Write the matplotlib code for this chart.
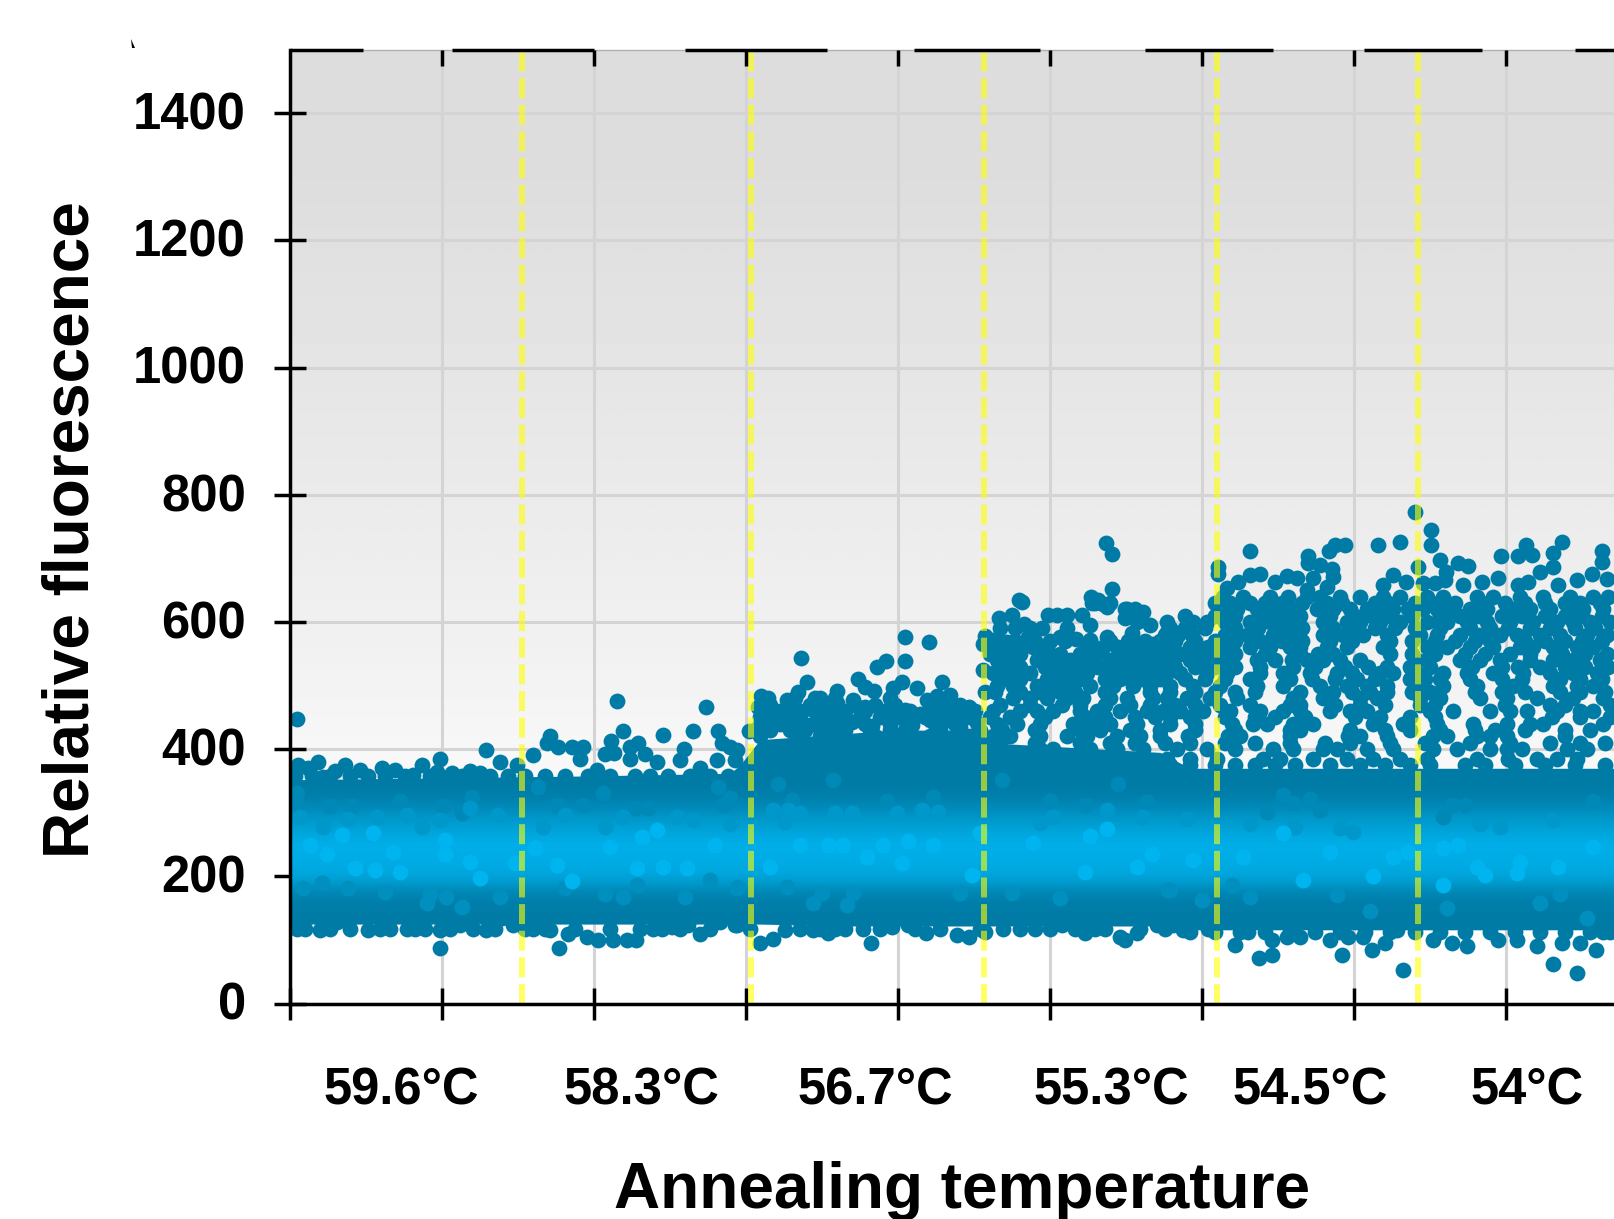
import matplotlib
matplotlib.use("Agg")
import matplotlib.pyplot as plt
from matplotlib.colors import LinearSegmentedColormap
from matplotlib.patches import Polygon
from matplotlib.transforms import ScaledTranslation
import numpy as np

plt.rcParams['font.family'] = ['Liberation Sans', 'DejaVu Sans']

# ---------- axes content ----------
grid_x = [0, 152, 304, 456, 608, 760, 912, 1064, 1216]
y_ticks = [0, 200, 400, 600, 800, 1000, 1200, 1400]
temp_pos = [111, 351, 585, 821, 1020, 1237]
temp_labels = ['59.6°C', '58.3°C', '56.7°C', '55.3°C', '54.5°C', '54°C']
yellow_x = [232, 461, 694, 927, 1128]
top_segments = [(0, 73), (162, 304), (395, 537), (624, 750), (855, 983), (1074, 1192), (1285, 1324)]

# ---------- dense band, read as a profile (value -> tone) ----------
band_values = [135, 160, 176, 192, 205, 225, 250, 268, 285, 305, 325, 345]
band_tones = ['#007ba6', '#007fab', '#0088b6', '#009ccf', '#00a6dd', '#00acE6', '#00aee8',
              '#00a6dd', '#009ccf', '#008dbd', '#0080ac', '#007ba6']
solid_x = [0, 300, 440, 450, 470, 560, 600, 690, 700, 870, 900, 1324]
solid_top = [352, 358, 362, 375, 415, 425, 430, 430, 410, 395, 370, 370]
solid_bottom = [125, 125, 125, 125, 125, 122, 122, 122, 122, 122, 116, 116]

# ---------- lighter dots visible inside the band ----------
tone1_x = [7, 248, 313, 428, 433, 293, 267, 345, 110, 62, 40, 7, 153, 182, 172, 358,
           712, 828, 488, 543, 597, 502, 440, 795, 760, 643, 857,
           993, 1020, 1162, 1003, 977, 1175, 1303, 1030, 1153]
tone1_y = [331, 341, 331, 341, 312, 312, 312, 307, 318, 310, 310, 315, 310, 325, 299, 307,
           352, 346, 346, 352, 318, 320, 323, 312, 318, 325, 317,
           328, 321, 312, 315, 302, 312, 318, 304, 294]
tone2_x = [117, 87, 58, 33, 10, 132, 150, 180, 208, 253, 275, 333, 387, 440, 403, 315,
           483, 498, 545, 510, 607, 632, 562, 648, 750, 817, 853, 763, 495,
           960, 1005, 897, 1190, 1263, 1050, 1063, 1210]
tone2_y = [297, 294, 291, 278, 294, 278, 289, 307, 296, 278, 296, 294, 294, 283, 289, 278,
           305, 305, 299, 299, 299, 305, 299, 302, 284, 305, 294, 294, 286,
           283, 278, 291, 283, 289, 276, 270, 278]
bright_x = [155, 245, 267, 225, 52, 83, 20, 37, 103, 65, 85, 110, 180, 155, 320, 352, 367, 347, 373, 397, 425, 282, 190,
            817, 690, 618, 593, 553, 510, 538, 643, 800, 743, 862, 795, 682, 612, 577, 480, 847,
            993, 1153, 1040, 1168, 1153, 1118, 903, 953, 1103, 1230, 1268, 1187, 1303, 1195, 1227, 1013, 1083]
bright_y = [236, 244, 218, 221, 265, 268, 250, 236, 239, 213, 210, 207, 223, 257, 247, 262, 273, 213, 215, 213, 250, 192, 197,
            274, 268, 255, 249, 249, 249, 249, 249, 263, 252, 236, 207, 202, 221, 231, 215, 215,
            269, 244, 239, 249, 186, 239, 226, 231, 231, 223, 215, 215, 247, 202, 205, 194, 200]
lower_x = [13, 32, 58, 95, 140, 156, 172, 210, 275, 315, 333, 347, 420, 447, 395, 137,
           532, 448, 497, 563, 722, 670, 770, 878, 523, 557,
           880, 942, 960, 1080, 1157, 1250, 1297, 1270, 1047, 912]
lower_y = [181, 189, 181, 176, 173, 168, 152, 168, 181, 173, 168, 186, 194, 181, 168, 158,
           174, 184, 184, 174, 174, 174, 166, 179, 158, 155,
           179, 186, 168, 145, 150, 158, 134, 173, 171, 163]

# ---------- edge and outlying points ----------
edge_x = [7, 8, 18, 28, 33, 45, 55, 70, 92, 105, 132, 123, 150, 147, 162, 180, 190, 196, 210, 227, 243, 257, 260, 268, 282, 293, 290, 307, 315, 324, 321, 327, 333, 340, 348, 355, 340, 373, 367, 394, 390, 403, 416, 428, 432, 440, 427, 410, 447, 445,
          7, 30, 47, 78, 100, 117, 150, 150, 170, 183, 196, 212, 223, 243, 260, 269, 278, 297, 308, 323, 337, 346, 363, 382, 398, 410, 430, 445,
          447, 470, 483, 495, 523, 538, 555, 581, 573, 602, 618, 636, 667, 679, 695, 713, 745, 772, 795, 805, 830, 835, 847, 867, 883,
          893, 918, 945, 958, 982, 982, 969, 997, 1010, 1040, 1052, 1058, 1073, 1082, 1095, 1107, 1113, 1143, 1162, 1177, 1208, 1227, 1247, 1263, 1272, 1287, 1290, 1306, 1313]
edge_y = [447, 375, 370, 380, 357, 366, 375, 367, 370, 367, 375, 360, 384, 364, 362, 366, 362, 399, 380, 375, 391, 409, 420, 404, 404, 404, 384, 367, 393, 394, 413, 476, 428, 404, 409, 393, 384, 423, 380, 400, 383, 428, 466, 428, 409, 404, 383, 370, 399, 383,
          118, 116, 129, 116, 118, 118, 87, 116, 124, 118, 116, 134, 124, 118, 116, 87, 110, 105, 100, 100, 100, 100, 118, 120, 124, 110, 129, 124,
          124, 96, 101, 116, 116, 111, 118, 96, 118, 121, 124, 111, 108, 105, 113, 118, 118, 124, 111, 118, 105, 100, 111, 124, 124,
          116, 118, 92, 113, 100, 76, 71, 105, 105, 100, 76, 105, 105, 85, 95, 116, 53, 100, 95, 91, 100, 100, 91, 62, 95, 48, 95, 85, 113]

upper_x = [459, 468, 471, 478, 511, 517, 508, 497, 530, 547, 547, 568, 575, 584, 563, 575, 587, 596, 615, 615, 639, 603, 612, 627, 652, 637, 647, 660, 597, 615, 630, 652, 667, 679,
           693, 695, 693, 695, 709, 722, 734, 758, 767, 777, 792, 777, 770, 786, 800, 802, 817, 808, 732, 835, 845, 853, 835, 847, 860, 842, 817, 877, 887, 845, 863, 827, 800, 738, 747, 703, 717, 727,
           816, 822, 822, 801, 813, 729, 837,
           473, 483, 497, 510, 520, 523, 537, 545, 562, 570, 582, 597, 603, 622, 630, 640, 657, 670, 680, 687,
           1125, 1141, 1141, 1088, 1110, 1055, 1045, 1039, 960, 1272, 1236, 1228, 1242, 1263, 1263, 1211, 1312, 1312, 1150, 1168, 1178, 1128, 1156, 928, 928, 1018, 1018, 1030, 1042, 1043,
           948, 960, 970, 985, 997, 1007, 1023, 1017, 1037, 937, 1103, 1093, 1116, 1133, 1145, 1155, 1173, 1192, 1208, 1250, 1238, 1228, 1268, 1287, 1302, 1317]
upper_y = [428, 466, 484, 480, 543, 505, 490, 477, 480, 492, 472, 510, 498, 491, 477, 467, 529, 539, 577, 539, 568, 496, 505, 496, 505, 477, 483, 485, 462, 462, 456, 456, 467, 467,
           566, 578, 525, 490, 606, 611, 597, 611, 611, 611, 611, 590, 577, 574, 595, 630, 624, 635, 632, 621, 621, 616, 606, 600, 595, 582, 577, 585, 582, 566, 566, 561, 572, 577, 566, 572, 569, 566,
           725, 707, 652, 639, 628, 634, 621,
           433, 451, 456, 449, 438, 462, 451, 430, 443, 446, 436, 456, 451, 438, 454, 446, 446, 435, 451, 441,
           773, 745, 721, 721, 726, 721, 721, 711, 712, 726, 721, 703, 705, 708, 687, 703, 712, 695, 697, 693, 688, 687, 679, 687, 676, 703, 692, 690, 684, 671,
           663, 674, 676, 663, 672, 669, 669, 650, 655, 653, 674, 658, 663, 661, 661, 666, 658, 663, 669, 679, 663, 658, 658, 666, 676, 668]

# ---------- the scattered cloud, read row by row ----------
row_640 = [933, 953, 980, 998, 1017, 1030, 1050, 1070, 1093, 1110, 1137, 1153, 1187, 1203, 1230, 1253, 1280, 1303, 1318]
row_630 = [805, 820, 925, 940, 960, 975, 992, 1012, 1037, 1052, 1085, 1098, 1125, 1142, 1165, 1192, 1215, 1235, 1255, 1275, 1290, 1310]
row_620 = [933, 947, 967, 983, 997, 1007, 1027, 1043, 1060, 1077, 1093, 1103, 1118, 1133, 1147, 1160, 1180, 1197, 1223, 1240, 1260, 1280, 1293, 1313]
row_610 = [895, 925, 945, 970, 990, 1010, 1040, 1065, 1082, 1100, 1122, 1150, 1170, 1188, 1212, 1232, 1255, 1275, 1292, 1312]
row_600 = [877, 903, 917, 935, 960, 980, 1000, 1033, 1057, 1070, 1090, 1110, 1137, 1157, 1177, 1197, 1220, 1243, 1267, 1283, 1300, 1320]
row_590 = [710, 725, 740, 752, 880, 895, 915, 945, 968, 992, 1012, 1043, 1063, 1085, 1105, 1125, 1150, 1180, 1200, 1218, 1240, 1260, 1285, 1305]
row_580 = [875, 888, 902, 935, 957, 983, 1003, 1033, 1053, 1073, 1097, 1130, 1147, 1170, 1190, 1210, 1227, 1250, 1270, 1297, 1317]
row_570 = [700, 710, 725, 745, 760, 775, 800, 820, 838, 855, 870, 885, 905, 925, 945, 970, 992, 1012, 1040, 1062, 1100, 1122, 1145, 1165, 1185, 1200, 1235, 1255, 1275, 1292, 1312]
row_560 = [703, 717, 730, 743, 757, 797, 813, 827, 843, 863, 877, 900, 918, 937, 960, 980, 1000, 1010, 1037, 1057, 1093, 1137, 1157, 1180, 1203, 1230, 1243, 1263, 1287, 1303]
row_550 = [700, 715, 730, 750, 770, 790, 807, 830, 850, 870, 890, 910, 925, 945, 975, 1010, 1028, 1043, 1100, 1122, 1145, 1175, 1195, 1220, 1240, 1272, 1295, 1317]
row_540 = [707, 723, 747, 763, 780, 797, 820, 840, 860, 880, 900, 917, 937, 967, 985, 1002, 1017, 1033, 1050, 1070, 1127, 1137, 1170, 1190, 1210, 1240, 1263, 1283, 1310]
row_530 = [710, 730, 755, 772, 790, 808, 828, 848, 870, 885, 905, 925, 945, 970, 1003, 1025, 1055, 1078, 1097, 1120, 1140, 1182, 1212, 1228, 1250, 1275, 1295, 1318]
row_520 = [703, 720, 740, 767, 777, 797, 817, 837, 857, 877, 890, 917, 937, 970, 993, 1020, 1047, 1062, 1090, 1103, 1127, 1153, 1177, 1203, 1233, 1260, 1283, 1307]
row_510 = [713, 730, 757, 772, 790, 815, 830, 850, 870, 895, 915, 935, 960, 1000, 1022, 1045, 1067, 1085, 1120, 1135, 1150, 1180, 1212, 1232, 1270, 1290, 1312]
row_500 = [707, 723, 747, 763, 783, 800, 823, 843, 860, 880, 903, 930, 967, 993, 1030, 1057, 1077, 1097, 1127, 1153, 1187, 1223, 1263, 1287, 1303]
row_490 = [705, 730, 750, 770, 785, 815, 860, 880, 905, 925, 945, 965, 1010, 1043, 1062, 1080, 1097, 1122, 1140, 1185, 1212, 1235, 1270, 1290, 1315]
row_480 = [505, 525, 545, 600, 723, 740, 757, 777, 793, 820, 837, 863, 877, 897, 920, 947, 1003, 1033, 1070, 1087, 1130, 1150, 1190, 1217, 1247, 1283, 1313]
row_470 = [480, 500, 520, 535, 565, 585, 605, 640, 655, 670, 710, 740, 772, 790, 815, 840, 860, 885, 905, 930, 960, 1000, 1010, 1045, 1070, 1095, 1130, 1145, 1215, 1260, 1275, 1320]
row_460 = [475, 490, 510, 540, 555, 575, 600, 620, 645, 665, 685, 703, 730, 747, 763, 790, 807, 830, 857, 873, 890, 913, 940, 970, 993, 1010, 1040, 1060, 1077, 1140, 1163, 1200, 1220, 1237, 1267, 1290, 1303]
row_450 = [470, 500, 530, 550, 570, 590, 610, 635, 655, 675, 700, 720, 755, 795, 815, 845, 865, 880, 900, 935, 965, 985, 1015, 1065, 1090, 1120, 1145, 1262, 1290, 1320]
row_440 = [470, 490, 510, 530, 550, 575, 600, 620, 645, 665, 707, 727, 750, 783, 803, 820, 847, 880, 905, 942, 963, 977, 1003, 1023, 1083, 1113, 1147, 1183, 1217, 1240, 1253, 1313]
row_430 = [465, 480, 500, 515, 535, 555, 580, 600, 615, 650, 670, 690, 712, 745, 790, 810, 840, 870, 905, 945, 1000, 1010, 1060, 1095, 1120, 1150, 1185, 1205, 1235, 1275, 1300]
row_420 = [470, 510, 530, 545, 585, 610, 640, 665, 680, 703, 720, 750, 777, 797, 827, 850, 870, 898, 938, 950, 1000, 1058, 1070, 1097, 1143, 1157, 1187, 1200, 1217, 1275]
row_410 = [710, 745, 790, 820, 845, 875, 900, 935, 965, 1000, 1035, 1060, 1100, 1135, 1180, 1220, 1260, 1290, 1315]
row_400 = [707, 750, 763, 800, 827, 853, 887, 917, 945, 983, 1003, 1033, 1047, 1077, 1103, 1143, 1167, 1200, 1217, 1232, 1277, 1297]
row_385 = [720, 740, 763, 793, 813, 843, 877, 900, 927, 973, 990, 1023, 1057, 1083, 1110, 1137, 1187, 1218, 1247, 1267, 1287]
row_375 = [880, 900, 925, 945, 965, 985, 1005, 1040, 1070, 1095, 1120, 1140, 1175, 1195, 1225, 1255, 1285, 1315]
row_358 = [5, 22, 40, 60, 78, 95, 115, 140, 160, 172, 200, 218, 235, 255, 275, 298, 320, 345, 360, 378, 400, 420, 438]
row_118 = [15, 40, 60, 90, 125, 135, 160, 205, 235, 255, 285, 320, 350, 372, 390, 420, 460, 510, 530, 545, 590, 625, 650, 690, 730, 760, 785, 815, 850, 875]
row_112 = [900, 925, 950, 975, 1000, 1025, 1050, 1075, 1100, 1125, 1150, 1175, 1200, 1225, 1250, 1275, 1300, 1320]
row_values = [640, 630, 620, 610, 600, 590, 580, 570, 560, 550, 540, 530, 520, 510, 500, 490, 480, 470, 460, 450, 440, 430, 420, 410, 400, 385, 375, 358, 118, 112]
rows = [row_640, row_630, row_620, row_610, row_600, row_590, row_580, row_570, row_560, row_550, row_540, row_530, row_520, row_510, row_500, row_490, row_480, row_470, row_460, row_450, row_440, row_430, row_420, row_410, row_400, row_385, row_375, row_358, row_118, row_112]

W, H = 1614, 1219
fig = plt.figure(figsize=(W / 100, H / 100), dpi=100, facecolor='white')
ax = fig.add_axes([290 / W, (H - 1003.6) / H, (W - 290) / W, (1003.6 - 49.6) / H])

grad = np.array([[0.865], [0.905], [0.945], [0.998]])
ax.imshow(grad, extent=(0, 1324, 0, 1500), origin='upper', aspect='auto', cmap='gray',
          vmin=0, vmax=1, interpolation='bilinear', zorder=0)

ax.set_xticks(grid_x)
ax.set_yticks(y_ticks)
ax.grid(True, color='#d4d4d4', lw=2.2, zorder=1)
ax.set_axisbelow(True)

dark = '#007ba6'
ms = 130
ax.scatter(edge_x, edge_y, s=ms, c=dark, lw=0, zorder=2)
ax.scatter(upper_x, upper_y, s=ms, c=dark, lw=0, zorder=2)
for v, xs in zip(row_values, rows):
    ax.scatter(xs, [v] * len(xs), s=ms, c=dark, lw=0, zorder=2)
ax.fill_between(solid_x, solid_top, solid_bottom, color=dark, lw=0, zorder=2.1)

cmap = LinearSegmentedColormap.from_list(
    'band', [((v - band_values[0]) / (band_values[-1] - band_values[0]), c) for v, c in zip(band_values, band_tones)])
ax.imshow(np.linspace(1, 0, 256)[:, None], extent=(0, 1324, band_values[0], band_values[-1]),
          aspect='auto', cmap=cmap, zorder=2.2, interpolation='bilinear')
ax.scatter(tone1_x, tone1_y, s=ms, c='#0088b6', lw=0, zorder=2.3)
ax.scatter(lower_x, lower_y, s=ms, c='#008fbf', lw=0, zorder=2.3)
ax.scatter(tone2_x, tone2_y, s=ms, c='#0098cb', lw=0, zorder=2.3)
ax.scatter(bright_x, bright_y, s=ms, c='#00b4f0', lw=0, zorder=2.3)

for x in yellow_x:
    ax.plot([x, x], [0, 1500], color='#ffff00', alpha=0.6, lw=4.32,
            ls=(0, (3.33, 1.11)), zorder=3)

ax.set_xlim(0, 1324)
ax.set_ylim(0, 1500)

for s in ('right', 'top'):
    ax.spines[s].set_visible(False)
for s in ('left', 'bottom'):
    ax.spines[s].set_linewidth(2.5)
    ax.spines[s].set_zorder(5)
ax.axhline(1500, color='#b0b0b0', lw=1, zorder=4, clip_on=False)
for a, b in top_segments:
    ax.plot([a, b], [1500, 1500], color='black', lw=2.5, solid_capstyle='butt', zorder=5, clip_on=False)
ax.vlines(grid_x[1:], 1475, 1500, color='black', lw=2.5, zorder=5)

ax.tick_params(axis='both', which='major', direction='inout', length=23.5, width=2.5, color='black')
ax.tick_params(axis='x', which='major', labelbottom=False)
ax.tick_params(axis='y', which='major', pad=20, labelsize=36.5)
shift = ScaledTranslation(0, 2 / 72, fig.dpi_scale_trans)
for lab in ax.get_yticklabels():
    lab.set_fontweight('bold')
    lab.set_transform(lab.get_transform() + shift)

ax.set_xticks(temp_pos, minor=True)
ax.set_xticklabels(temp_labels, minor=True, fontsize=36.5, fontweight='bold')
ax.tick_params(axis='x', which='minor', length=0, pad=45)

fig.text(962 / W, 1 - 1191 / H, 'Annealing temperature', fontsize=46, fontweight='bold',
         ha='center', va='center')
fig.text(72 / W, 1 - 530 / H, 'Relative fluorescence', fontsize=46, fontweight='bold',
         rotation=90, ha='center', va='center')

fig.add_artist(Polygon([(131 / W, 1 - 39 / H), (132 / W, 1 - 48 / H), (135 / W, 1 - 48 / H)],
                       closed=True, color='black', transform=fig.transFigure, lw=0))

fig.savefig('out.png', dpi=100, facecolor='white')
